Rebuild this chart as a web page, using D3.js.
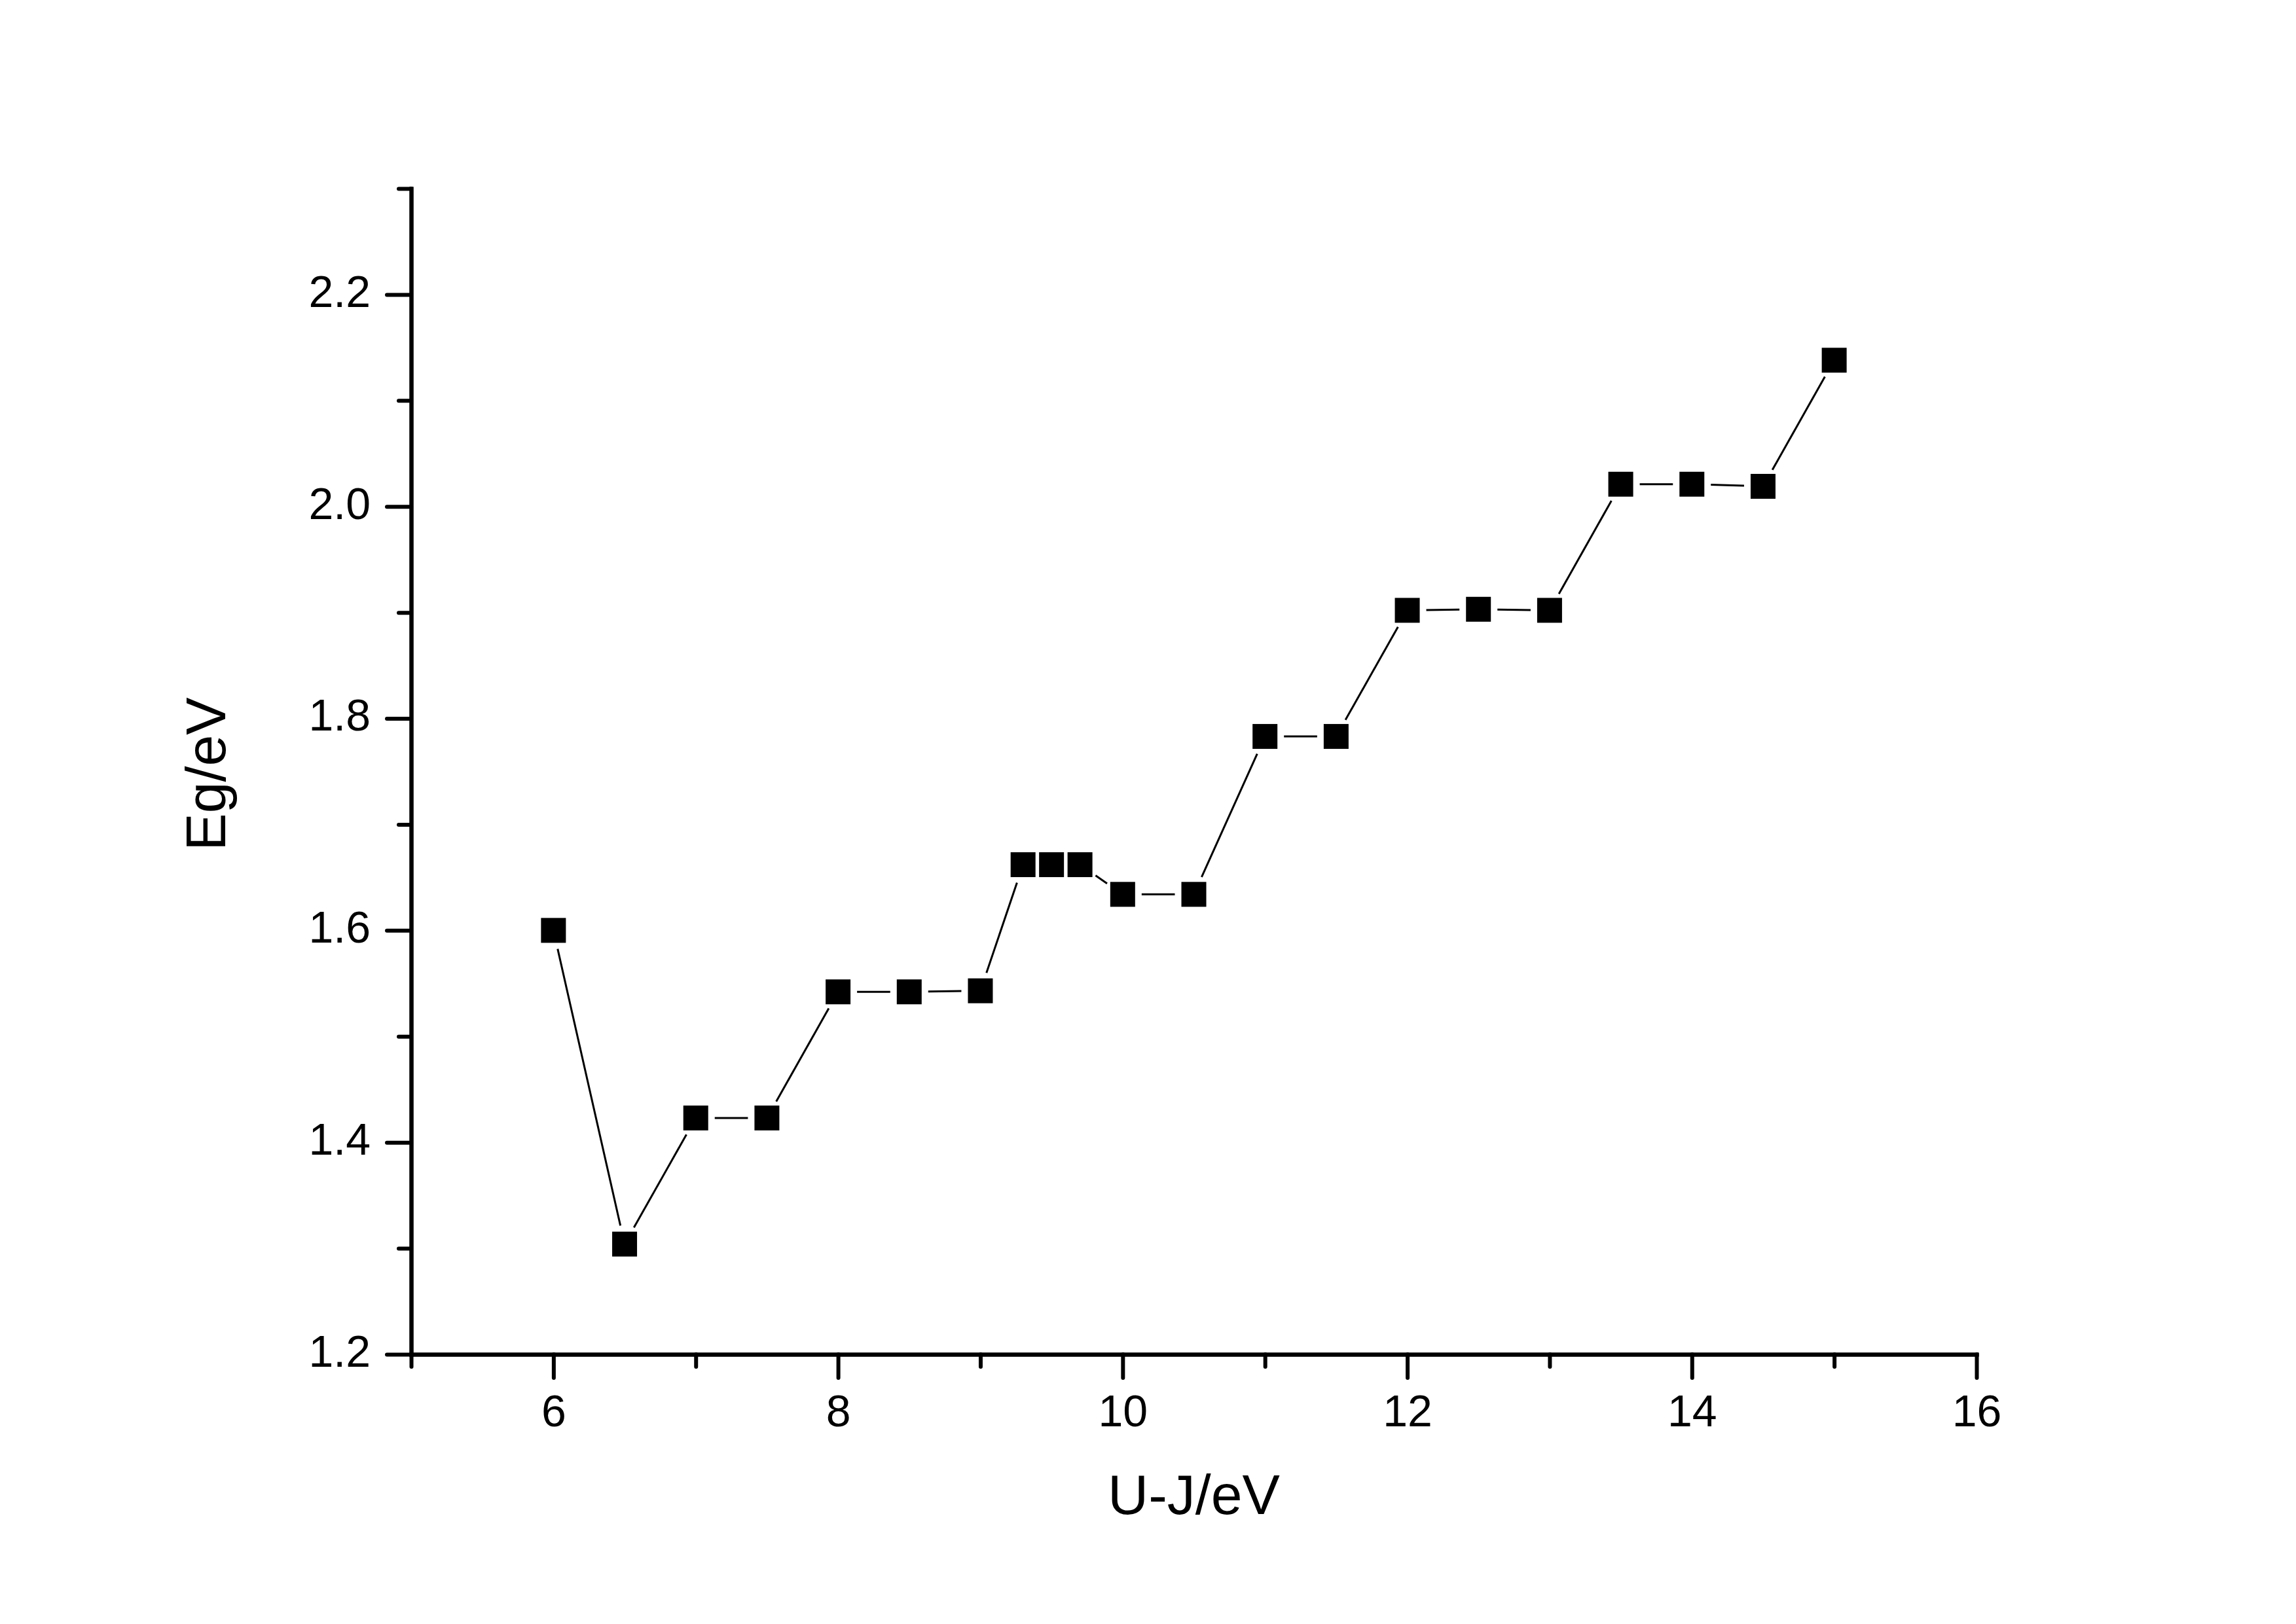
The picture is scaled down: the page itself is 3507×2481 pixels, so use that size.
<!DOCTYPE html>
<html>
<head>
<meta charset="utf-8">
<script src="https://cdn.jsdelivr.net/npm/d3@7"></script>
<style>
  html, body { margin: 0; padding: 0; background: #fff; }
  svg { display: block; }
</style>
</head>
<body>
<svg id="chart" width="3507" height="2481"></svg>
<script>
// ---- data ----
const ujValues = [6, 6.5, 7, 7.5, 8, 8.5, 9, 9.3, 9.5, 9.7, 10, 10.5, 11, 11.5, 12, 12.5, 13, 13.5, 14, 14.5, 15];
const egValues = [1.600, 1.304, 1.423, 1.423, 1.542, 1.542, 1.543, 1.662, 1.662, 1.662, 1.634, 1.634, 1.783, 1.783, 1.902, 1.903, 1.902, 2.021, 2.021, 2.019, 2.138];
const xMajorTicks = [6, 8, 10, 12, 14, 16];
const xMinorTicks = [5, 7, 9, 11, 13, 15];
const yMajorTicks = [1.2, 1.4, 1.6, 1.8, 2.0, 2.2];
const yMinorTicks = [1.3, 1.5, 1.7, 1.9, 2.1, 2.3];
const xTitle = "U-J/eV";
const yTitle = "Eg/eV";

(function () {
// ---- layout ----
const svg = d3.select("#chart");
const plotLeft = 628, plotRight = 3019, plotBottom = 2069, plotTop = 288;
const x = d3.scaleLinear().domain([5, 16]).range([plotLeft, plotRight]);
const y = d3.scaleLinear().domain([1.2, 2.3]).range([plotBottom, plotTop]);
const font = "'Liberation Sans', Arial, Helvetica, sans-serif";

function styleAxis(g) {
  g.selectAll("path.domain").attr("stroke", "#000").attr("stroke-width", 6).attr("stroke-linecap", "square");
  g.selectAll(".tick line").attr("stroke", "#000").attr("stroke-width", 6).attr("stroke-linecap", "round");
  g.selectAll(".tick text").attr("fill", "#000").style("font-family", font).style("font-size", "68px");
}

// x axis minor
svg.append("g").attr("transform", `translate(0,${plotBottom})`)
  .call(d3.axisBottom(x).tickValues(xMinorTicks).tickSize(19).tickSizeOuter(0).tickFormat(""))
  .call(styleAxis);
// x axis major
svg.append("g").attr("transform", `translate(0,${plotBottom})`)
  .call(d3.axisBottom(x).tickValues(xMajorTicks).tickSize(36).tickSizeOuter(0).tickPadding(26).tickFormat(d3.format("d")))
  .call(styleAxis)
  .call(g => g.selectAll(".tick text").attr("dy", "0.71em"));

// y axis minor
svg.append("g").attr("transform", `translate(${plotLeft},0)`)
  .call(d3.axisLeft(y).tickValues(yMinorTicks).tickSize(19).tickSizeOuter(0).tickFormat(""))
  .call(styleAxis);
// y axis major
svg.append("g").attr("transform", `translate(${plotLeft},0)`)
  .call(d3.axisLeft(y).tickValues(yMajorTicks).tickSize(37).tickSizeOuter(0).tickPadding(25).tickFormat(d3.format(".1f")))
  .call(styleAxis)
  .call(g => g.selectAll(".tick text").attr("dy", "0.27em"));

// axis titles
svg.append("text")
  .attr("x", (plotLeft + plotRight) / 2).attr("y", 2313)
  .attr("text-anchor", "middle")
  .style("font-family", font).style("font-size", "86px")
  .text(xTitle);
svg.append("text")
  .attr("transform", `translate(344,${(plotTop + plotBottom) / 2 + 4}) rotate(-90)`)
  .attr("text-anchor", "middle")
  .style("font-family", font).style("font-size", "86px")
  .text(yTitle);

// ---- connecting line with gaps around symbols ----
const pts = ujValues.map((u, i) => ({ px: x(u), py: y(egValues[i]) }));
const gap = 29;
const segs = [];
for (let i = 0; i < pts.length - 1; i++) {
  const a = pts[i], b = pts[i + 1];
  const dx = b.px - a.px, dy = b.py - a.py;
  const len = Math.hypot(dx, dy);
  if (len <= 2 * gap) continue;
  const ux = dx / len, uy = dy / len;
  segs.push({ x1: a.px + ux * gap, y1: a.py + uy * gap, x2: b.px - ux * gap, y2: b.py - uy * gap });
}
svg.append("g").selectAll("line").data(segs).join("line")
  .attr("x1", d => d.x1).attr("y1", d => d.y1)
  .attr("x2", d => d.x2).attr("y2", d => d.y2)
  .attr("stroke", "#000").attr("stroke-width", 3);

// ---- markers ----
const size = 38;
svg.append("g").selectAll("rect").data(ujValues).join("rect")
  .attr("x", (d) => x(d) - size / 2)
  .attr("y", (d, i) => y(egValues[i]) - size / 2)
  .attr("width", size).attr("height", size)
  .attr("fill", "#000");
})();
</script>
</body>
</html>
